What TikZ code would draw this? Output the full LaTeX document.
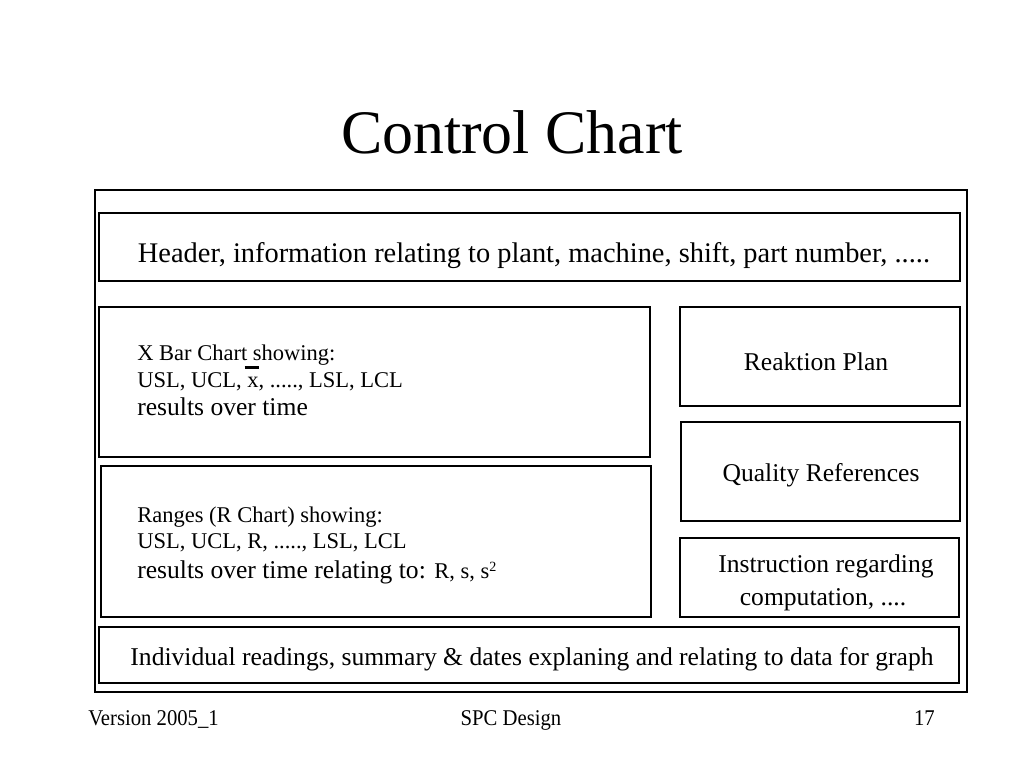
\documentclass[tikz,border=0pt]{standalone}
\usepackage{fontspec}
\usepackage{graphicx}
\setmainfont{Liberation Serif}
\usetikzlibrary{positioning, calc, fit}

% x with a thick bar above it
\newcommand{\barx}{\makebox[0pt][l]{\hspace{-0.12em}\raisebox{0.82em}{\rule{0.66em}{0.13em}}}x}
% narrow footer text
\newcommand{\narrow}[1]{\scalebox{0.92}[1]{#1}}

\begin{document}
\begin{tikzpicture}[
        x=0.025cm, y=-0.025cm,
        panel/.style={draw, line width=1.7pt, inner sep=0pt},
        headtext/.style={font=\fontsize{20.2}{24}\selectfont, inner sep=0pt},
        bigtext/.style={font=\fontsize{18.2}{22}\selectfont, inner sep=0pt},
        smalltext/.style={font=\fontsize{16}{19}\selectfont, inner sep=0pt},
        foot/.style={font=\fontsize{16}{19}\selectfont, inner sep=0pt, anchor=base}
    ]
        \useasboundingbox (0,0) rectangle (1024,768);

        % Title
        \node[font=\fontsize{44}{52}\selectfont, anchor=base, inner sep=0pt] (title) at (512,153) {Control Chart};

        % Frame and boxes
        \node[panel, fit={(95,190) (967,692)}] (frame) {};
        \node[panel, fit={(99,213) (960,281)}] (header) {};
        \node[panel, fit={(99,307) (650,457)}] (xbar) {};
        \node[panel, fit={(101,466) (651,617)}] (rchart) {};
        \node[panel, fit={(680,307) (960,406)}] (plan) {};
        \node[panel, fit={(681,422) (960,521)}] (quality) {};
        \node[panel, fit={(680,538) (959,617)}] (instr) {};
        \node[panel, fit={(99,627) (959,683)}] (readings) {};

        % Texts
        \node[headtext, anchor=base] (headertxt) at (534,262)
            {Header, information relating to plant, machine, shift, part number, .....};

        \node[smalltext, anchor=base west] (xbar1) at (137,360) {X Bar Chart showing:};
        \node[smalltext, anchor=base west] (xbar2) at (137,387) {USL, UCL, \barx, ....., LSL, LCL};
        \node[bigtext, anchor=base west] (xbar3) at (137,415) {results over time};

        \node[smalltext, anchor=base west] (r1) at (137,522) {Ranges (R Chart) showing:};
        \node[smalltext, anchor=base west] (r2) at (137,548) {USL, UCL, R, ....., LSL, LCL};
        \node[bigtext, anchor=base west] (r3) at (137,578)
            {results over time relating to: {\fontsize{16}{19}\selectfont R, s, s{\fontsize{10}{12}\selectfont\raisebox{0.45em}{2}}}};

        \node[bigtext, anchor=base] (plantxt) at (816,370) {Reaktion Plan};
        \node[bigtext, anchor=base] (qualitytxt) at (821,481) {Quality References};
        \node[bigtext, anchor=base] (instr1) at (826,572) {Instruction regarding};
        \node[bigtext, anchor=base] (instr2) at (823,605) {computation, ....};

        \node[bigtext, anchor=base] (readingstxt) at (532,665)
            {Individual readings, summary \& dates explaning and relating to data for graph};

        % Footer
        \node[foot, anchor=base west] (version) at (88,725) {\narrow{Version 2005\_1}};
        \node[foot] (spc) at (511,725) {\narrow{SPC Design}};
        \node[foot, anchor=base east] (page) at (935,725) {\narrow{17}};
    \end{tikzpicture}
\end{document}
